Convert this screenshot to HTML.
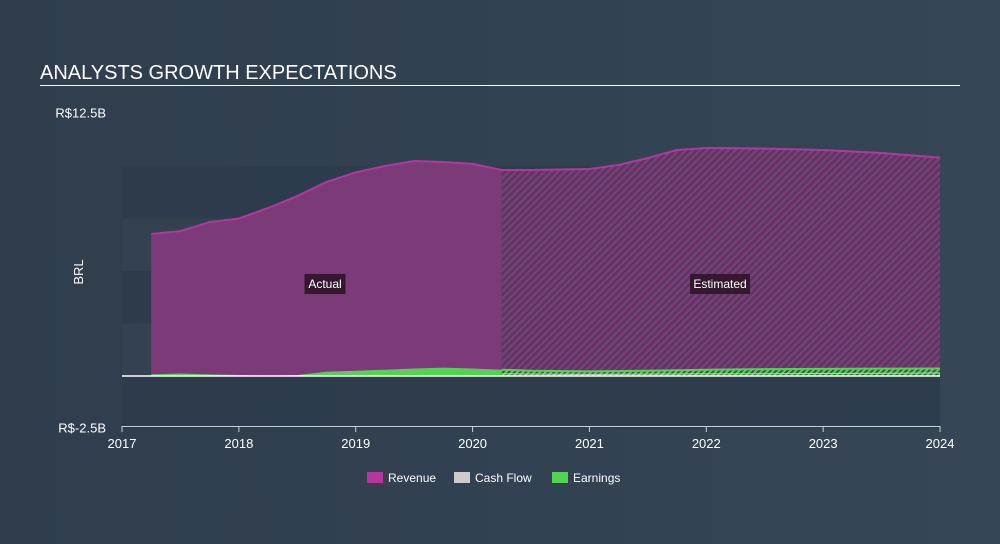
<!DOCTYPE html>
<html><head><meta charset="utf-8"><style>
body{margin:0;width:1000px;height:544px;overflow:hidden;background:linear-gradient(90deg,#2f3d4d,#364656);font-family:"Liberation Sans",sans-serif}
svg{position:absolute;left:0;top:0}
</style></head><body>
<svg id="c" width="1000" height="544">
<defs>
<pattern id="hatch" width="5" height="5" patternUnits="userSpaceOnUse" patternTransform="rotate(45)">
<rect width="5" height="5" fill="#553a5c"/><rect width="2.5" height="5" fill="#7e3b7b"/></pattern>
<pattern id="hatchg" width="4" height="4" patternUnits="userSpaceOnUse" patternTransform="rotate(45)">
<rect width="4" height="4" fill="#3a5a45"/><rect width="2" height="4" fill="#52d452"/></pattern>
</defs>
<text x="40" y="79" fill="#fff" font-size="20">ANALYSTS GROWTH EXPECTATIONS</text>
<line x1="40" y1="85.5" x2="960" y2="85.5" stroke="#fff" stroke-width="1"/>
<g id="g"></g>
</svg>
<script>
const yTicks=[12.5,-2.5];
const yTickLabels=["R$12.5B","R$-2.5B"];
const xTicks=[2017,2018,2019,2020,2021,2022,2023,2024];
const revT=[2017.25,2017.5,2017.75,2018,2018.25,2018.5,2018.75,2019,2019.25,2019.5,2019.75,2020,2020.25,2020.5,2021,2021.25,2021.5,2021.75,2022,2022.5,2023,2023.5,2024];
const revV=[6.76,6.9,7.33,7.5,8.0,8.57,9.24,9.7,10.0,10.24,10.19,10.1,9.81,9.81,9.86,10.05,10.38,10.76,10.86,10.83,10.76,10.62,10.4];
const earnT=[2017.25,2017.5,2017.75,2018,2018.25,2018.5,2018.75,2019,2019.25,2019.5,2019.75,2020,2020.25,2020.5,2021,2021.5,2022,2022.5,2023,2023.5,2024];
const earnV=[0.08,0.12,0.08,0.05,0.02,0.05,0.2,0.25,0.3,0.36,0.4,0.36,0.3,0.25,0.22,0.25,0.3,0.33,0.34,0.35,0.36];
const cashT=[2020.25,2021,2022,2023,2024];
const cashV=[0.1,0.08,0.1,0.12,0.14];
const split=2020.25;
const X=t=>122+(t-2017)*116.86, Y=v=>376-v*21;
const g=document.getElementById('g'),NS='http://www.w3.org/2000/svg';
function mk(tag,a,p){const e=document.createElementNS(NS,tag);for(const k in a)e.setAttribute(k,a[k]);(p||g).appendChild(e);return e;}
const bands=[[-2.5,0,'#2d3b4b'],[0,2.5,'#34434f'],[2.5,5,'#2d3b4b'],[5,7.5,'#34434f'],[7.5,10,'#2d3b4b']];
bands.forEach((b,i)=>{const e=mk('rect',{x:122,y:Y(b[1]),width:818,height:Y(b[0])-Y(b[1]),fill:b[2],opacity:0.8});
});
function area(T,V,lo,hi,fill,name){let pts=[];T.forEach((t,i)=>{if(t>=lo-1e-9&&t<=hi+1e-9)pts.push([X(t),Y(V[i])]);});
const d='M'+pts[0][0]+','+Y(0)+pts.map(p=>'L'+p[0]+','+p[1]).join('')+'L'+pts[pts.length-1][0]+','+Y(0)+'Z';
const e=mk('path',{d,fill});}
function line(T,V,stroke,w,name){const d=T.map((t,i)=>(i?'L':'M')+X(t)+','+Y(V[i])).join('');
const e=mk('path',{d,fill:'none',stroke,'stroke-width':w});}
area(revT,revV,2017,split,'#7b3a78','revenue-actual-area');
area(revT,revV,split,2030,'url(#hatch)','revenue-estimated-area');
line(revT,revV,'#b3379f',2,'revenue-line');
area(earnT,earnV,2017,split,'#52d452','earnings-actual-area');
area(earnT,earnV,split,2030,'url(#hatchg)','earnings-estimated-area');
line(earnT.filter(t=>t>=split),earnV.filter((v,i)=>earnT[i]>=split),'#52d452',2,'earnings-line');
line(cashT,cashV,'#cccccc',1,'cashflow-line');
let e=mk('line',{x1:122,y1:Y(0),x2:940,y2:Y(0),stroke:'#fff','stroke-width':1.5});

e=mk('line',{x1:122,y1:426.5,x2:940,y2:426.5,stroke:'#c8d0d8','stroke-width':1});

xTicks.forEach(t=>{let l=mk('line',{x1:X(t),y1:426,x2:X(t),y2:432,stroke:'#c8d0d8'});

let tx=mk('text',{x:X(t),y:448,fill:'#fff','font-size':13,'text-anchor':'middle'});tx.textContent=t;
});
yTicks.forEach((v,i)=>{let tx=mk('text',{x:106,y:Y(v)+4,fill:'#fff','font-size':13,'text-anchor':'end'});tx.textContent=yTickLabels[i];
});
e=mk('text',{x:83,y:272,fill:'#fff','font-size':13,'text-anchor':'middle',transform:'rotate(-90 83 272)'});e.textContent='BRL';

function tag(x,txt,w,name){let r=mk('rect',{x:x-w/2,y:274,width:w,height:20,fill:'#35182f'});
let t=mk('text',{x,y:288,fill:'#fff','font-size':12,'text-anchor':'middle'});t.textContent=txt;}
tag(325,'Actual',41,'actual-label');tag(720,'Estimated',60,'estimated-label');
[['Revenue','#b3379f',367],['Cash Flow','#cccccc',454],['Earnings','#52d452',552]].forEach(l=>{
let r=mk('rect',{x:l[2],y:472,width:16,height:11,fill:l[1]});
let t=mk('text',{x:l[2]+21,y:482,fill:'#fff','font-size':12});t.textContent=l[0];});
</script>
</body></html>
